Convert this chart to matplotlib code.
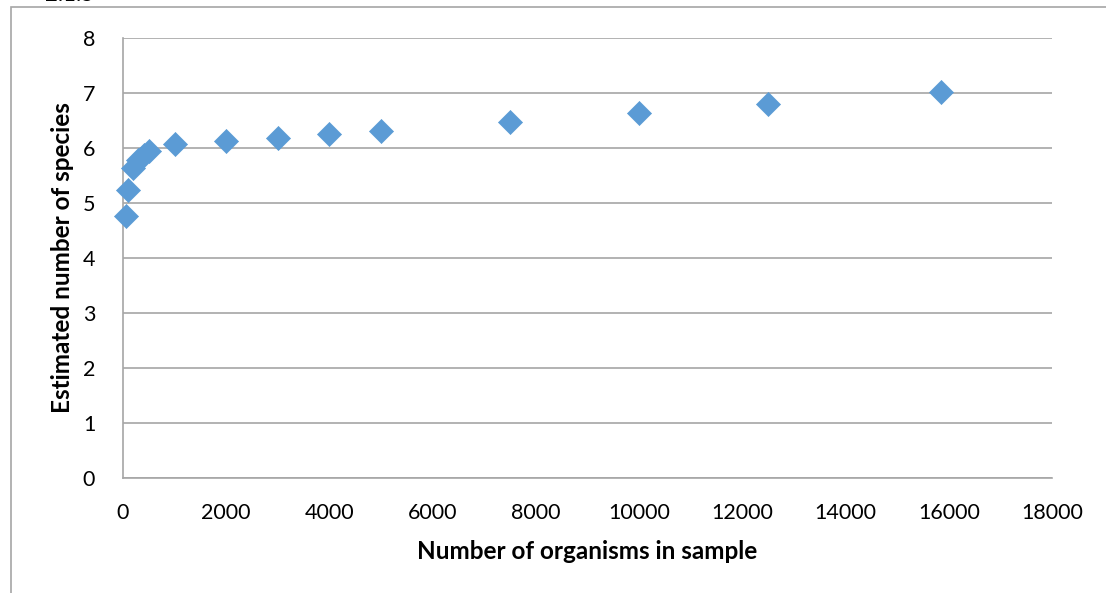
import matplotlib.pyplot as plt
from matplotlib.patches import Rectangle

# data
organisms = [50, 100, 200, 300, 400, 500, 1000, 2000, 3000, 4000, 5000, 7500, 10000, 12500, 15850]
species = [4.76, 5.24, 5.63, 5.79, 5.88, 5.95, 6.07, 6.13, 6.19, 6.25, 6.31, 6.47, 6.63, 6.80, 7.01]

x_ticks = [0, 2000, 4000, 6000, 8000, 10000, 12000, 14000, 16000, 18000]
y_ticks = [0, 1, 2, 3, 4, 5, 6, 7, 8]

plt.rcParams['font.family'] = ['Lato', 'DejaVu Sans']

W, H = 1106, 593
fig = plt.figure(figsize=(W / 100, H / 100), dpi=100)
ax = fig.add_axes([123 / W, 1 - 478 / H, (1052 - 123) / W, (478 - 38) / H])

# outer chart frame (cut off at right/bottom)
fig.patches.append(Rectangle((11 / W, -0.1), 1.2, 1 - 7 / H + 0.1,
                             transform=fig.transFigure, fill=False,
                             edgecolor="#A6A6A6", linewidth=1.2))
# clipped caption fragment at the very top
fig.text(45 / W, 1 - 5 / H, "2.1.5", fontsize=16, va="bottom", ha="left", color="black")

ax.scatter(organisms, species, marker="D", s=150, color="#5B9BD5",
           edgecolor="#5B9BD5", linewidth=0.5, zorder=3, clip_on=False)

ax.set_xlim(0, 18000)
ax.set_ylim(0, 8)
ax.set_xticks(x_ticks)
ax.set_yticks(y_ticks)
ax.tick_params(length=0, labelsize=15.5)
ax.tick_params(axis="x", pad=18)
ax.tick_params(axis="y", pad=20)
ax.grid(axis="y", color="#A6A6A6", linewidth=1.2)
ax.set_axisbelow(True)
for s in ["top", "right"]:
    ax.spines[s].set_visible(False)
for s in ["left", "bottom"]:
    ax.spines[s].set_color("#A6A6A6")
    ax.spines[s].set_linewidth(1.2)

ax.set_xlabel("Number of organisms in sample", fontsize=17.5, fontweight="bold", labelpad=12)
ax.set_ylabel("Estimated number of species", fontsize=17.5, fontweight="bold", labelpad=6)

fig.savefig("out.png", dpi=100)
